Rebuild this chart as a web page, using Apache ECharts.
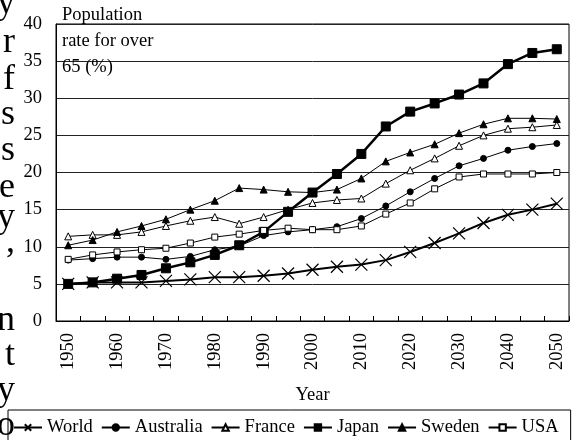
<!DOCTYPE html>
<html>
<head>
<meta charset="utf-8">
<script src="https://cdn.jsdelivr.net/npm/echarts@6/dist/echarts.min.js"></script>
<style>
  html, body { margin: 0; padding: 0; background: #fff; }
  #chart { width: 580px; height: 440px; }
</style>
</head>
<body>
<div id="chart"></div>
<script>
// years on the x axis, every 5 years
const years = ['1950', '1955', '1960', '1965', '1970', '1975', '1980', '1985', '1990', '1995', '2000',
  '2005', '2010', '2015', '2020', '2025', '2030', '2035', '2040', '2045', '2050']

// share of population over 65 (%)
const world = [5.0, 5.2, 5.2, 5.2, 5.4, 5.6, 5.9, 5.9, 6.1, 6.4, 6.9, 7.3, 7.6, 8.2, 9.3, 10.5, 11.8, 13.2, 14.3, 15.0, 15.8]
const australia = [8.2, 8.4, 8.6, 8.6, 8.3, 8.7, 9.6, 10.1, 11.5, 12.0, 12.3, 12.7, 13.8, 15.5, 17.4, 19.2, 20.9, 21.9, 23.0, 23.5, 23.9]
const france = [11.4, 11.6, 11.6, 12.0, 12.8, 13.5, 14.0, 13.1, 14.0, 15.0, 15.9, 16.3, 16.5, 18.5, 20.3, 21.9, 23.6, 25.0, 25.9, 26.1, 26.4]
const japan = [5.0, 5.2, 5.7, 6.2, 7.1, 7.9, 8.9, 10.2, 12.0, 14.7, 17.3, 19.8, 22.5, 26.2, 28.2, 29.3, 30.5, 32.0, 34.6, 36.1, 36.6]
const sweden = [10.2, 10.9, 12.0, 12.8, 13.7, 15.0, 16.2, 17.9, 17.7, 17.4, 17.3, 17.7, 19.2, 21.5, 22.7, 23.8, 25.3, 26.5, 27.3, 27.3, 27.2]
const usa = [8.3, 8.9, 9.3, 9.6, 9.8, 10.5, 11.3, 11.7, 12.2, 12.5, 12.3, 12.3, 12.8, 14.4, 15.9, 17.8, 19.4, 19.8, 19.8, 19.8, 20.0]

// clipped words of the neighbouring paragraph on the left edge
const sideLetters = ['y', 'r', 'f', 's', 's', 'e', 'y', ',', 'n', 't', 'y', 'o']
const sideBaselines = [16, 55, 92, 127, 163, 200, 230, 255, 333, 368, 403, 438]

const FONT = '"Liberation Serif", "Times New Roman", serif'
const FS = 18.5

const chart = echarts.init(document.getElementById('chart'))

function line(name, data, symbol, size, filled, width) {
  return {
    name: name,
    type: 'line',
    data: data,
    symbol: symbol,
    symbolSize: size,
    showSymbol: true,
    lineStyle: { color: '#000', width: width },
    itemStyle: {
      color: filled ? '#000' : '#fff',
      borderColor: '#000',
      borderWidth: 1
    },
    emphasis: { disabled: true },
    animation: false
  }
}

const cross = 'path://M0,0L10,10M10,0L0,10'

const series = [
  line('World', world, cross, 12, false, 2),
  line('Australia', australia, 'circle', 6, true, 1),
  line('France', france, 'triangle', 7, false, 1),
  line('Japan', japan, 'rect', 9, true, 2.5),
  line('Sweden', sweden, 'triangle', 7, true, 1),
  line('USA', usa, 'rect', 6, false, 1)
]
// the X marker is only strokes
series[0].itemStyle = { color: 'none', borderColor: '#000', borderWidth: 1.2 }

const graphic = sideLetters.map(function(ch, i) {
  return {
    type: 'text',
    x: 15,
    y: sideBaselines[i] - 12,
    style: {
      text: ch,
      font: '36px ' + FONT,
      fill: '#000',
      align: 'right',
      verticalAlign: 'middle'
    }
  }
})

chart.setOption({
  backgroundColor: '#fff',
  animation: false,
  textStyle: { fontFamily: FONT, color: '#000' },
  grid: {
    left: 56,
    right: 11,
    top: 24,
    bottom: 119,
    show: true,
    borderColor: '#000',
    borderWidth: 1
  },
  legend: {
    left: 8,
    top: 410,
    padding: [8, 12, 8, 5],
    itemGap: 8,
    itemWidth: 28,
    itemHeight: 8,
    borderColor: '#000',
    borderWidth: 1,
    textStyle: { fontFamily: FONT, fontSize: FS, color: '#000' },
    data: ['World', 'Australia', 'France', 'Japan', 'Sweden', 'USA']
  },
  xAxis: {
    type: 'category',
    data: years,
    boundaryGap: true,
    name: 'Year',
    nameLocation: 'middle',
    nameGap: 65,
    nameTextStyle: { fontFamily: FONT, fontSize: FS, color: '#000' },
    axisLine: { lineStyle: { color: '#000', width: 1 } },
    axisTick: { show: true, inside: true, length: 5, interval: 0, lineStyle: { color: '#000' } },
    axisLabel: {
      interval: 1,
      rotate: 90,
      margin: 12,
      fontFamily: FONT,
      fontSize: FS,
      color: '#000'
    },
    splitLine: { show: false }
  },
  yAxis: {
    type: 'value',
    min: 0,
    max: 40,
    interval: 5,
    name: 'Population\nrate for over\n65 (%)',
    nameLocation: 'end',
    nameGap: 22,
    nameTextStyle: {
      fontFamily: FONT,
      fontSize: FS,
      color: '#000',
      align: 'left',
      verticalAlign: 'top',
      lineHeight: 26,
      padding: [0, 0, 0, 6]
    },
    axisLine: { show: true, lineStyle: { color: '#000' } },
    axisTick: { show: false },
    axisLabel: { margin: 14, fontFamily: FONT, fontSize: FS, color: '#000' },
    splitLine: { lineStyle: { color: '#222', width: 1 } }
  },
  graphic: graphic,
  series: series
})
</script>
</body>
</html>
